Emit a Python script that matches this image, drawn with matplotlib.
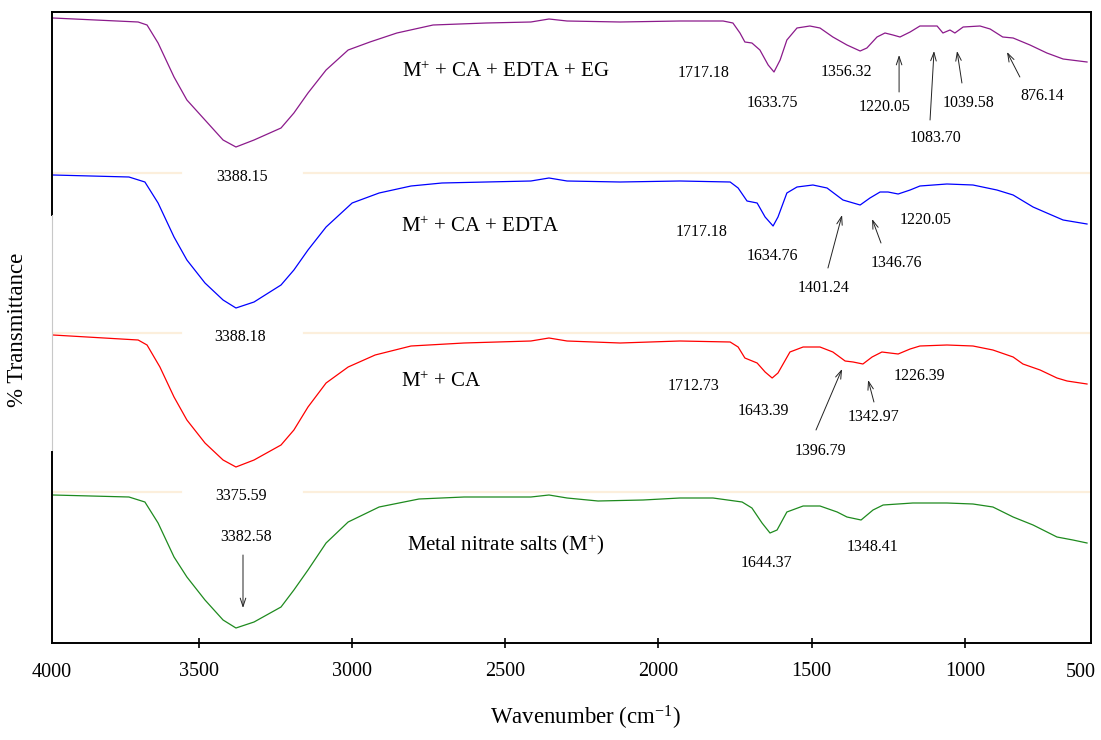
import matplotlib
matplotlib.use("Agg")
import matplotlib.pyplot as plt
from matplotlib.transforms import blended_transform_factory

plt.rcParams['font.family'] = ['Liberation Serif', 'DejaVu Serif']
plt.rcParams['mathtext.fontset'] = 'custom'
plt.rcParams['mathtext.rm'] = 'Liberation Serif'
plt.rcParams['mathtext.it'] = 'Liberation Serif:italic'

# spectra (wavenumber in cm-1, stacked transmittance in a.u.)
wn_eg = [3975, 3697, 3668, 3632, 3580, 3538, 3479, 3420, 3378, 3319, 3231, 3189, 3143, 3084, 3012,
         2941, 2853, 2735, 2562, 2416, 2357, 2298, 2125, 1930, 1789, 1757, 1734, 1718, 1695, 1669,
         1642, 1623, 1603, 1581, 1548, 1506, 1473, 1431, 1385, 1342, 1320, 1287, 1261, 1235, 1212,
         1179, 1147, 1091, 1072, 1049, 1033, 1006, 951, 918, 877, 843, 788, 733, 680, 602]
t_eg = [625, 621, 618, 600, 566, 543, 523, 503, 496, 503, 515, 530, 550, 573, 593,
        601, 610, 618, 620, 621, 624, 622, 621, 622, 622, 620, 610, 601, 600, 593,
        578, 571, 583, 603, 615, 617, 615, 606, 598, 592, 595, 606, 610, 608, 606,
        611, 617, 617, 610, 613, 610, 616, 617, 614, 606, 605, 598, 590, 584, 581]

wn_edta = [3975, 3727, 3675, 3632, 3580, 3538, 3479, 3420, 3378, 3319, 3231, 3189, 3143, 3084, 2999,
           2911, 2807, 2706, 2562, 2416, 2357, 2298, 2125, 1930, 1766, 1740, 1711, 1678, 1652, 1626,
           1610, 1581, 1548, 1496, 1450, 1398, 1342, 1310, 1277, 1251, 1218, 1179, 1147, 1059, 974,
           896, 843, 778, 733, 680, 602]
t_edta = [468, 466, 461, 440, 406, 383, 360, 343, 335, 341, 358, 373, 393, 416, 440,
          450, 457, 460, 461, 462, 465, 462, 461, 462, 461, 455, 442, 440, 426, 417,
          426, 450, 456, 458, 455, 443, 438, 445, 451, 451, 449, 453, 457, 459, 458,
          453, 448, 436, 430, 423, 419]

wn_ca = [3975, 3697, 3668, 3626, 3580, 3538, 3479, 3420, 3378, 3319, 3231, 3189, 3143, 3084, 3012,
         2924, 2807, 2634, 2416, 2357, 2298, 2125, 1930, 1766, 1740, 1718, 1678, 1652, 1629, 1610,
         1571, 1528, 1473, 1431, 1391, 1365, 1333, 1303, 1271, 1245, 1218, 1179, 1147, 1059, 974,
         909, 843, 811, 755, 700, 667, 602]
t_ca = [308, 303, 298, 276, 246, 223, 200, 183, 176, 183, 198, 213, 236, 260, 276,
        288, 297, 300, 302, 305, 302, 300, 302, 301, 296, 285, 280, 271, 265, 270,
        291, 296, 296, 291, 282, 281, 279, 286, 291, 290, 289, 294, 297, 298, 297,
        293, 286, 279, 273, 265, 262, 259]

wn_salt = [3975, 3727, 3675, 3632, 3580, 3538, 3479, 3420, 3378, 3319, 3231, 3189, 3143, 3084, 3012,
           2911, 2781, 2634, 2416, 2357, 2298, 2197, 2050, 1930, 1822, 1727, 1695, 1662, 1636, 1613,
           1581, 1528, 1473, 1417, 1385, 1339, 1300, 1267, 1170, 1059, 974, 909, 843, 778, 700,
           648, 602]
t_salt = [148, 146, 141, 120, 86, 66, 43, 23, 15, 21, 36, 53, 73, 100, 121,
          136, 144, 146, 146, 148, 145, 142, 143, 145, 145, 141, 135, 120, 110, 113,
          131, 137, 137, 131, 126, 123, 133, 138, 140, 140, 139, 136, 126, 118, 106,
          103, 100]

names = ['M$^{+}$ + CA + EDTA + EG', 'M$^{+}$ + CA + EDTA', 'M$^{+}$ + CA',
         'Metal nitrate salts (M$^{+}$)']
colors = ['#8b1a8b', '#0000ff', '#ff0000', '#1e8a1e']
tick_vals = [3500, 3000, 2500, 2000, 1500, 1000]

fig = plt.figure(figsize=(11.01, 7.40), dpi=100)
ax = fig.add_axes([52 / 1101, 97 / 740, 1039 / 1101, 631 / 740])
x0, x1 = 3978, 589
ax.set_xlim(x0, x1)
ax.set_ylim(0, 631)

# faint separators between the stacked spectra
for h in [470, 310, 151]:
    ax.plot([x0, 3557], [h, h], color='#fcefdc', lw=1.6, zorder=1)
    ax.plot([3156, x1], [h, h], color='#fcefdc', lw=1.6, zorder=1)

for wn, t, c in zip([wn_eg, wn_edta, wn_ca, wn_salt], [t_eg, t_edta, t_ca, t_salt], colors):
    ax.plot(wn, t, color=c, lw=0.9, zorder=3)

# sample names
ax.text(2497, 571, names[0], fontsize=15, ha='center', va='center')
ax.text(2582, 416, names[1], fontsize=15, ha='center', va='center')
ax.text(2709, 261, names[2], fontsize=15, ha='center', va='center')
ax.text(2500, 98, names[3], fontsize=15, ha='center', va='center')

# peak labels
peak_labels = [
    ('3388.15', 3358, 466), ('1717.18', 1854, 570), ('1633.75', 1629, 540),
    ('1356.32', 1388, 571), ('1220.05', 1261, 536), ('1083.70', 1095, 505),
    ('1039.58', 987, 540), ('876.14', 749, 547),
    ('1717.18', 1858, 411), ('3388.18', 3365, 306), ('1634.76', 1629, 387),
    ('1401.24', 1460, 355), ('1346.76', 1225, 380), ('1220.05', 1130, 423),
    ('1712.73', 1884, 257), ('3375.59', 3361, 147), ('1643.39', 1656, 232),
    ('1396.79', 1473, 192), ('1342.97', 1297, 226), ('1226.39', 1150, 267),
    ('3382.58', 3345, 106), ('1644.37', 1646, 80), ('1348.41', 1303, 96),
]
for txt, x, y in peak_labels:
    ax.text(x, y, txt, fontsize=11.5, ha='center', va='center', zorder=4,
            bbox=dict(facecolor='white', edgecolor='none', pad=0.5) if txt.startswith('33') else None)

arrows = [
    ((1215, 551), (1215, 588)), ((1114, 523), (1101, 592)), ((1010, 560), (1026, 592)),
    ((821, 566), (863, 591)),
    ((1447, 375), (1401, 428)), ((1274, 400), (1303, 424)),
    ((1486, 213), (1401, 274)), ((1297, 241), (1316, 263)),
    ((3355, 88), (3355, 35)),
]
for tail, head in arrows:
    ax.annotate('', xy=head, xytext=tail,
                arrowprops=dict(arrowstyle='->,head_length=0.6,head_width=0.2',
                                color='#222222', lw=0.7, shrinkA=0, shrinkB=0))

# axes frame
ax.spines['left'].set_visible(False)
for s in ['top', 'right', 'bottom']:
    ax.spines[s].set_linewidth(1.4)
ax.plot([x0, x0], [631, 428], color='black', lw=1.4, clip_on=False, zorder=5)
ax.plot([x0, x0], [428, 191], color='#c8c8c8', lw=0.8, clip_on=False, zorder=5)
ax.plot([x0, x0], [191, 0], color='black', lw=1.4, clip_on=False, zorder=5)

ax.set_yticks([])
ax.set_xticks(tick_vals)
ax.set_xticklabels([str(v) for v in tick_vals])
ax.tick_params(axis='x', direction='inout', length=7, width=1.2, labelsize=14.5, pad=10)
tr = blended_transform_factory(ax.transData, ax.transAxes)
ax.text(x0, -0.046, '4000', transform=tr, fontsize=14.5, ha='center', va='center')
ax.text(622, -0.046, '500', transform=tr, fontsize=14.5, ha='center', va='center')

fig.text(585 / 1101, 1 - 718 / 740, 'Wavenumber (cm$^{-1}$)', fontsize=16.5, ha='center', va='center')
fig.text(18 / 1101, 1 - 330 / 740, '% Transmittance', fontsize=16.5, ha='center', va='center',
         rotation=90)

fig.savefig('out.png', dpi=100)
